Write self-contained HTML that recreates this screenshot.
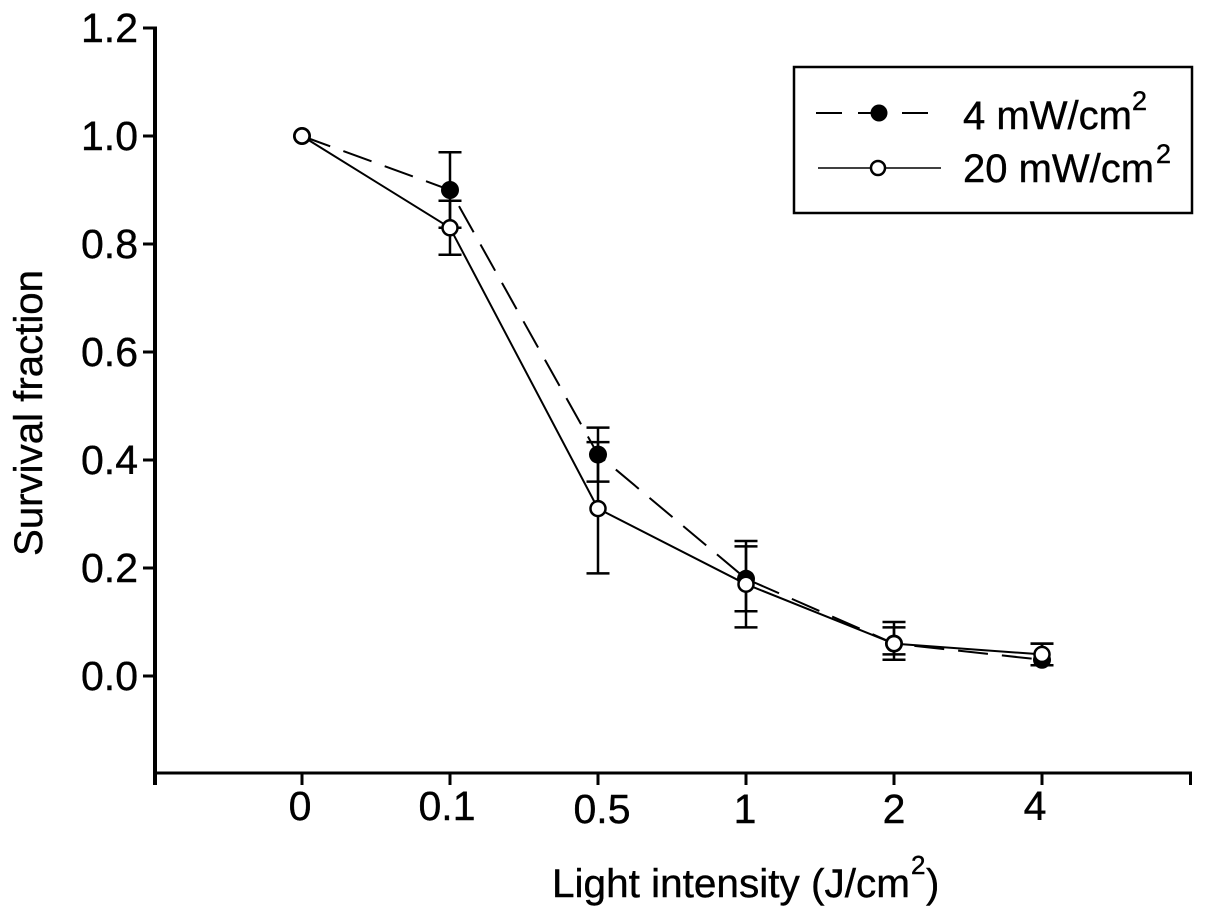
<!DOCTYPE html>
<html>
<head>
<meta charset="utf-8">
<title>Survival fraction vs light intensity</title>
<style>
html,body{margin:0;padding:0;background:#fff;}
svg{display:block;font-family:"Liberation Sans",sans-serif;fill:#000;}
text{stroke:#000;stroke-width:.4px;}
</style>
</head>
<body>
<svg id="chart" xmlns="http://www.w3.org/2000/svg" width="1205" height="918" viewBox="0 0 1205 918">
  <rect x="0" y="0" width="1205" height="918" fill="#fff"/>
  <g id="axes"></g>
  <g id="marks"></g>

  <text transform="translate(42,556) rotate(-90)" font-size="40" textLength="286" lengthAdjust="spacingAndGlyphs">Survival fraction</text>
  <text x="552" y="897" font-size="40" textLength="358" lengthAdjust="spacingAndGlyphs">Light intensity (J/cm</text>
  <text x="911" y="874" font-size="26">2</text>
  <text x="926" y="897" font-size="40">)</text>

  <g>
    <rect x="794" y="67" width="398" height="146" fill="#fff" stroke="#000" stroke-width="2.5"/>
    <g>
      <line x1="816" y1="113" x2="928" y2="113" stroke="#000" stroke-width="2" stroke-dasharray="26 16 20 24 28"/>
      <circle cx="879" cy="113" r="8.5" fill="#000"/>
      <text x="963" y="129" font-size="40" textLength="169" lengthAdjust="spacingAndGlyphs">4 mW/cm</text>
      <text x="1132" y="110" font-size="27">2</text>
    </g>
    <g>
      <line x1="818" y1="168" x2="941" y2="168" stroke="#000" stroke-width="1.5"/>
      <circle cx="878" cy="168" r="7" fill="#fff" stroke="#000" stroke-width="2.5"/>
      <text x="963" y="182" font-size="40" textLength="191" lengthAdjust="spacingAndGlyphs">20 mW/cm</text>
      <text x="1156" y="163" font-size="27">2</text>
    </g>
  </g>
</svg>
<script>
const categories = ['0', '0.1', '0.5', '1', '2', '4'];
const yTickValues = [0.0, 0.2, 0.4, 0.6, 0.8, 1.0, 1.2];
const yTickLabels = ['0.0', '0.2', '0.4', '0.6', '0.8', '1.0', '1.2'];
const values4 = [1.0, 0.90, 0.41, 0.18, 0.06, 0.03];
const upper4 = [null, 0.97, 0.46, 0.24, 0.09, 0.06];
const lower4 = [null, 0.83, 0.36, 0.12, 0.03, 0.02];
const values20 = [1.0, 0.83, 0.31, 0.17, 0.06, 0.04];
const upper20 = [null, 0.88, 0.433, 0.25, 0.10, 0.06];
const lower20 = [null, 0.78, 0.19, 0.09, 0.04, 0.02];

const SVGNS = 'http://www.w3.org/2000/svg';
const axesGroup = document.getElementById('axes');
const marksGroup = document.getElementById('marks');

function xScale(i) { return 302 + 148 * i; }
function yScale(v) { return 676 - 540 * v; }

// small hand-placement quirks of the printed tick labels, relative to the axis position
function labelShiftX(c) {
  if (c === '0.5') return 4;
  if (c === '4') return -7;
  if (c === '0.1') return -3;
  if (c === '0') return -2;
  if (c === '1') return -1;
  return 0;
}
function labelShiftY(c) {
  return (c === '0.5' || c === '1' || c === '2') ? 3 : 0;
}

function draw(tag, parent, props) {
  const el = document.createElementNS(SVGNS, tag);
  for (const k in props) el.setAttribute(k, props[k]);
  parent.appendChild(el);
  return el;
}

// axes
const yAxisLine = draw('line', axesGroup, {x1: 155, y1: yScale(1.2) - 1.5, x2: 155, y2: 785, stroke: '#000', 'stroke-width': 4});


const xAxisLine = draw('line', axesGroup, {x1: 153, y1: 773, x2: 1192, y2: 773, stroke: '#000', 'stroke-width': 3});


const xEndTick = draw('line', axesGroup, {x1: 1190.5, y1: 773, x2: 1190.5, y2: 785, stroke: '#000', 'stroke-width': 3});



yTickValues.forEach(function (v, i) {
  const tick = draw('line', axesGroup, {x1: 143, y1: yScale(v), x2: 155, y2: yScale(v), stroke: '#000', 'stroke-width': 3});
  
  
  const label = draw('text', axesGroup, {x: 138, y: yScale(v) + 14, 'text-anchor': 'end', 'font-size': 41});
  
  
  label.textContent = yTickLabels[i];
});

categories.forEach(function (c, i) {
  const tick = draw('line', axesGroup, {x1: xScale(i), y1: 773, x2: xScale(i), y2: 785, stroke: '#000', 'stroke-width': 3});
  
  
  const label = draw('text', axesGroup, {x: xScale(i) + labelShiftX(c), y: 820 + labelShiftY(c), 'text-anchor': 'middle', 'font-size': 41});
  
  
  label.textContent = c;
});

function drawErrorBars(upper, lower, seriesName) {
  upper.forEach(function (hi, i) {
    if (hi === null) return;
    const x = xScale(i);
    const stem = draw('line', marksGroup, {x1: x, y1: yScale(hi), x2: x, y2: yScale(lower[i]), stroke: '#000', 'stroke-width': 2.5});
    
    
    const capTop = draw('line', marksGroup, {x1: x - 11.5, y1: yScale(hi), x2: x + 11.5, y2: yScale(hi), stroke: '#000', 'stroke-width': 2.5});
    
    
    const capBottom = draw('line', marksGroup, {x1: x - 11.5, y1: yScale(lower[i]), x2: x + 11.5, y2: yScale(lower[i]), stroke: '#000', 'stroke-width': 2.5});
    
    
  });
}

function pointList(values) {
  return values.map(function (v, i) { return xScale(i) + ',' + yScale(v); }).join(' ');
}

drawErrorBars(upper4, lower4, '4-mw');
drawErrorBars(upper20, lower20, '20-mw');

const line4 = draw('polyline', marksGroup, {points: pointList(values4), fill: 'none', stroke: '#000', 'stroke-width': 2, 'stroke-dasharray': '30 14'});


const line20 = draw('polyline', marksGroup, {points: pointList(values20), fill: 'none', stroke: '#000', 'stroke-width': 2});



values4.forEach(function (v, i) {
  const pt = draw('circle', marksGroup, {cx: xScale(i), cy: yScale(v), r: 9, fill: '#000'});
  
  
});
values20.forEach(function (v, i) {
  const pt = draw('circle', marksGroup, {cx: xScale(i), cy: yScale(v), r: 7.5, fill: '#fff', stroke: '#000', 'stroke-width': 2.5});
  
  
});
</script>
</body>
</html>
